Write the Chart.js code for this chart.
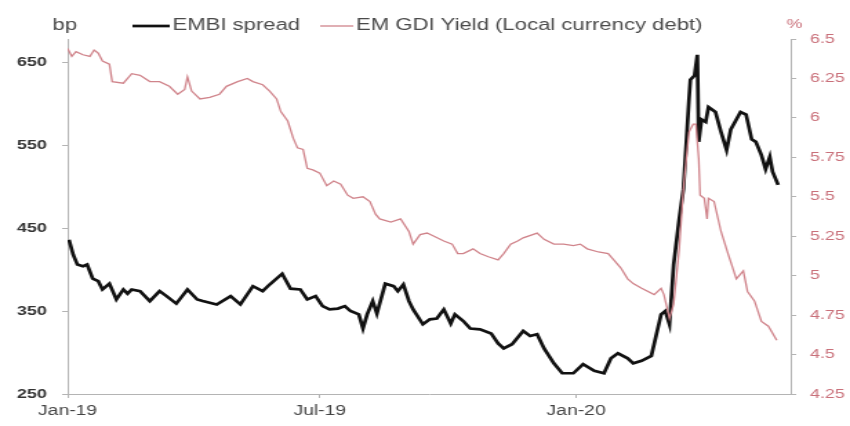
<!DOCTYPE html>
<html>
<head>
<meta charset="utf-8">
<script src="https://cdn.jsdelivr.net/npm/chart.js@4.4.1/dist/chart.umd.min.js"></script>
<style>
  html, body { margin: 0; padding: 0; background: #fff; }
</style>
</head>
<body>
<canvas id="spreadChart" width="616" height="426" style="width:850px;height:426px"></canvas>
<script>
// days counted from 1 Jan 2019
const embiDays = [1, 4, 7, 11, 14, 18, 22, 25, 30, 35, 40, 43, 46, 52, 59, 66, 71, 78, 86, 93,
  97, 107, 117, 124, 133, 140, 145, 154, 160, 167, 172, 178, 183, 188, 194, 199, 203, 209, 212, 215,
  219, 222, 228, 234, 237, 241, 245, 248, 255, 260, 265, 270, 275, 278, 284, 289, 296, 304, 309, 313,
  319, 327, 332, 337, 342, 349, 355, 363, 370, 378, 385, 390, 395, 402, 406, 412, 419, 426, 429, 432,
  435, 439, 442, 446, 447, 450, 452, 453, 455, 458, 460, 465, 469, 473, 476, 480, 483, 487, 491, 494,
  498, 501, 504, 506, 510];
const embiSpread = [436, 418, 406, 404, 406, 389, 386, 376, 383, 364, 376, 371, 376, 374, 362, 374, 368, 359, 376, 364,
  362, 358, 368, 358, 380, 374, 382, 395, 377, 376, 364, 368, 356, 352, 353, 356, 350, 346, 329, 346,
  362, 347, 383, 380, 374, 382, 362, 352, 334, 340, 341, 352, 335, 346, 338, 329, 328, 323, 311, 305,
  310, 326, 320, 322, 305, 287, 275, 275, 286, 278, 275, 293, 299, 293, 287, 290, 296, 346, 350, 334,
  406, 461, 497, 605, 629, 634, 659, 554, 581, 578, 596, 590, 566, 544, 569, 581, 590, 587, 557, 554,
  538, 521, 536, 518, 502];

const gdiDays = [0, 3, 6, 11, 16, 19, 22, 25, 30, 32, 40, 46, 52, 59, 66, 73, 79, 84, 86, 89,
  95, 102, 109, 114, 122, 129, 133, 140, 145, 150, 153, 158, 162, 165, 169, 172, 176, 181, 186, 191,
  196, 201, 205, 212, 217, 221, 224, 232, 239, 245, 248, 253, 258, 263, 270, 276, 280, 284, 291, 296,
  302, 309, 313, 318, 323, 327, 337, 342, 349, 356, 363, 368, 373, 381, 388, 392, 397, 402, 406, 412,
  421, 426, 428, 432, 435, 439, 442, 446, 449, 451, 453, 454, 457, 459, 460, 464, 469, 474, 480, 485,
  488, 493, 498, 503, 509];
const gdiYield = [6.44, 6.39, 6.42, 6.40, 6.39, 6.43, 6.41, 6.36, 6.34, 6.23, 6.22, 6.28, 6.27, 6.23, 6.23, 6.20, 6.15, 6.18, 6.26, 6.17,
  6.12, 6.13, 6.15, 6.20, 6.23, 6.25, 6.23, 6.21, 6.17, 6.12, 6.04, 5.98, 5.87, 5.81, 5.80, 5.68, 5.67, 5.65, 5.57, 5.60,
  5.58, 5.51, 5.49, 5.50, 5.47, 5.39, 5.36, 5.34, 5.36, 5.28, 5.20, 5.26, 5.27, 5.25, 5.22, 5.20, 5.14, 5.14, 5.17, 5.14,
  5.12, 5.10, 5.14, 5.20, 5.22, 5.24, 5.27, 5.23, 5.20, 5.20, 5.19, 5.20, 5.17, 5.15, 5.14, 5.10, 5.05, 4.98, 4.95, 4.92,
  4.88, 4.92, 4.88, 4.73, 4.82, 5.17, 5.55, 5.91, 5.96, 5.96, 5.74, 5.51, 5.49, 5.36, 5.49, 5.47, 5.28, 5.14, 4.98, 5.03,
  4.90, 4.84, 4.71, 4.68, 4.59];

const monthTickDays = [0, 181, 365];
const monthTickLabels = ['Jan-19', 'Jul-19', 'Jan-20'];
const spreadTicks = [250, 350, 450, 550, 650];

const AXIS_GREY = '#b4b4b4';
const GDI_RED = '#d0848b';

Chart.defaults.font.family = '"Liberation Sans", Arial, sans-serif';

const toPoints = (days, values) => days.map((d, i) => ({ x: d, y: values[i] }));

// legend row plus the unit captions above each value axis
const legendRow = {
  id: 'legendRow',
  afterDraw(chart) {
    const { ctx } = chart;
    const starts = [96, 232];
    const sampleLength = [27, 24];
    ctx.save();
    ctx.textBaseline = 'middle';
    ctx.font = '16px "Liberation Sans", Arial, sans-serif';
    ctx.fillStyle = '#4a4a4a';
    ctx.fillText('bp', 38, 26);

    chart.data.datasets.forEach((ds, i) => {
      const x = starts[i];
      ctx.strokeStyle = ds.borderColor;
      ctx.lineWidth = ds.borderWidth;
      ctx.beginPath();
      ctx.moveTo(x, 26);
      ctx.lineTo(x + sampleLength[i], 26);
      ctx.stroke();
      ctx.fillStyle = '#4a4a4a';
      ctx.fillText(ds.label, x + sampleLength[i] + 2, 26);
    });

    ctx.font = '13px "Liberation Sans", Arial, sans-serif';
    ctx.fillStyle = '#c9707a';
    ctx.fillText('%', 570, 24);
    ctx.restore();
  }
};

new Chart(document.getElementById('spreadChart'), {
  type: 'line',
  data: {
    datasets: [
      {
        label: 'EMBI spread',
        data: toPoints(embiDays, embiSpread),
        yAxisID: 'ySpread',
        borderColor: '#111',
        borderWidth: 2.7,
        pointRadius: 0,
        tension: 0,
        order: 2
      },
      {
        label: 'EM GDI Yield (Local currency debt)',
        data: toPoints(gdiDays, gdiYield),
        yAxisID: 'yYield',
        borderColor: GDI_RED,
        borderWidth: 1.3,
        pointRadius: 0,
        tension: 0,
        order: 1
      }
    ]
  },
  options: {
    responsive: false,
    animation: false,
    devicePixelRatio: 1,
    layout: {
      padding: { top: 39, left: 0, right: 0, bottom: 0 }
    },
    plugins: {
      legend: { display: false },
      tooltip: { enabled: false }
    },
    scales: {
      x: {
        type: 'linear',
        min: 0,
        max: 519,
        afterBuildTicks: (scale) => {
          scale.ticks = monthTickDays.map((value) => ({ value }));
        },
        afterFit: (scale) => {
          scale.height = 32;
        },
        ticks: {
          autoSkip: false,
          maxRotation: 0,
          padding: 5,
          color: '#444',
          font: { size: 14 },
          callback: (value) => monthTickLabels[monthTickDays.indexOf(value)]
        },
        grid: {
          drawOnChartArea: false,
          tickLength: 4,
          color: AXIS_GREY
        },
        border: { color: AXIS_GREY, width: 1 }
      },
      ySpread: {
        position: 'left',
        min: 250,
        max: 678,
        afterBuildTicks: (scale) => {
          scale.ticks = spreadTicks.map((value) => ({ value }));
        },
        afterFit: (scale) => {
          scale.width = 49;
        },
        ticks: {
          padding: 11,
          color: '#333',
          font: { size: 13, weight: 'bold' }
        },
        grid: {
          drawOnChartArea: false,
          tickLength: 4,
          color: AXIS_GREY
        },
        border: { color: AXIS_GREY, width: 1 }
      },
      yYield: {
        position: 'right',
        min: 4.25,
        max: 6.5,
        afterFit: (scale) => {
          scale.width = 43;
        },
        ticks: {
          stepSize: 0.25,
          padding: 10,
          color: '#c9707a',
          font: { size: 13 },
          callback: (value) => Number(value.toFixed(2)).toString()
        },
        grid: {
          drawOnChartArea: false,
          tickLength: 4,
          color: AXIS_GREY
        },
        border: { color: AXIS_GREY, width: 1 }
      }
    }
  },
  plugins: [legendRow]
});
</script>
</body>
</html>
